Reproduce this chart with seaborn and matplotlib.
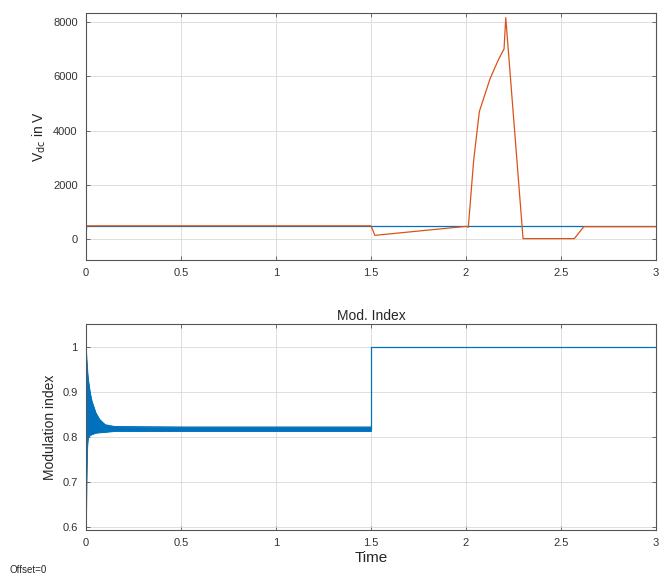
import numpy as np
import pandas as pd
import matplotlib
matplotlib.use("Agg")
import matplotlib.pyplot as plt
import seaborn as sns

# ---- data ----
t_ref = [0.0, 3.0]
v_ref = [500, 500]

t_vdc = [0.0, 0.003, 1.50, 1.52, 2.00, 2.012, 2.04, 2.07, 2.126, 2.17, 2.20, 2.209, 2.30, 2.57, 2.62, 3.0]
v_vdc = [0, 500, 500, 150, 480, 450, 2900, 4700, 5900, 6600, 7000, 8150, 30, 30, 470, 470]

t_env = [0.0, 0.003, 0.006, 0.01, 0.02, 0.03, 0.05, 0.07, 0.10, 0.15, 0.5, 1.0, 1.5]
m_upper = [0.99, 0.97, 0.95, 0.93, 0.90, 0.88, 0.855, 0.84, 0.828, 0.824, 0.823, 0.823, 0.823]
m_lower = [0.63, 0.72, 0.78, 0.80, 0.805, 0.807, 0.81, 0.811, 0.812, 0.814, 0.814, 0.814, 0.814]
t_step = [1.5, 1.5, 3.0]
m_step = [0.818, 1.0, 1.0]

x_ticks = [0, 0.5, 1, 1.5, 2, 2.5, 3]
x_ticklabels = ["0", "0.5", "1", "1.5", "2", "2.5", "3"]
y1_ticks = [0, 2000, 4000, 6000, 8000]
y2_ticks = [0.6, 0.7, 0.8, 0.9, 1.0]
y2_ticklabels = ["0.6", "0.7", "0.8", "0.9", "1"]

blue = "#0072BD"
red = "#D95319"

sns.set_theme(style="white")
plt.rcParams["font.family"] = ["Liberation Sans", "DejaVu Sans"]

fig = plt.figure(figsize=(6.62, 5.80), dpi=100)
ax1 = fig.add_axes([0.130, 0.552, 0.861, 0.426])
ax2 = fig.add_axes([0.130, 0.086, 0.861, 0.355])

def style(ax):
    ax.grid(True, color="#d9d9d9", linewidth=0.6)
    ax.set_axisbelow(True)
    for s in ax.spines.values():
        s.set_color("#555555")
        s.set_linewidth(0.8)
    ax.tick_params(direction="in", length=3, width=0.6, color="#555555",
                   top=True, right=True, labelsize=8, labelcolor="#333333",
                   bottom=True, left=True, pad=6)
    ax.set_xlim(0, 3)
    ax.set_xticks(x_ticks)
    ax.set_xticklabels(x_ticklabels)

df_ref = pd.DataFrame({"t": t_ref, "v": v_ref})
df_vdc = pd.DataFrame({"t": t_vdc, "v": v_vdc})
sns.lineplot(data=df_ref, x="t", y="v", ax=ax1, color=blue, linewidth=0.9,
             sort=False, estimator=None)
sns.lineplot(data=df_vdc, x="t", y="v", ax=ax1, color=red, linewidth=0.9,
             sort=False, estimator=None)
style(ax1)
ax1.set_ylim(-750, 8330)
ax1.set_yticks(y1_ticks)
ax1.set_xlabel("")
ax1.set_ylabel(r"V$_{\rm dc}$ in V", fontsize=10, color="#262626")

ax2.fill_between(t_env, m_lower, m_upper, color=blue, linewidth=0.6, edgecolor=blue)
df_up = pd.DataFrame({"t": t_env, "m": m_upper})
df_lo = pd.DataFrame({"t": t_env, "m": m_lower})
sns.lineplot(data=df_up, x="t", y="m", ax=ax2, color=blue, linewidth=0.7,
             sort=False, estimator=None)
sns.lineplot(data=df_lo, x="t", y="m", ax=ax2, color=blue, linewidth=0.7,
             sort=False, estimator=None)
df_step = pd.DataFrame({"t": t_step, "m": m_step})
sns.lineplot(data=df_step, x="t", y="m", ax=ax2, color=blue, linewidth=0.9,
             sort=False, estimator=None)
style(ax2)
ax2.set_ylim(0.594, 1.051)
ax2.set_yticks(y2_ticks)
ax2.set_yticklabels(y2_ticklabels)
ax2.set_title("Mod. Index", fontsize=10, color="#262626", pad=3)
ax2.set_xlabel("Time", fontsize=11, color="#262626", labelpad=2)
ax2.set_ylabel("Modulation index", fontsize=10, color="#262626")

fig.text(0.015, 0.012, "Offset=0", fontsize=7, color="#262626")

fig.savefig("out.png", dpi=100)
